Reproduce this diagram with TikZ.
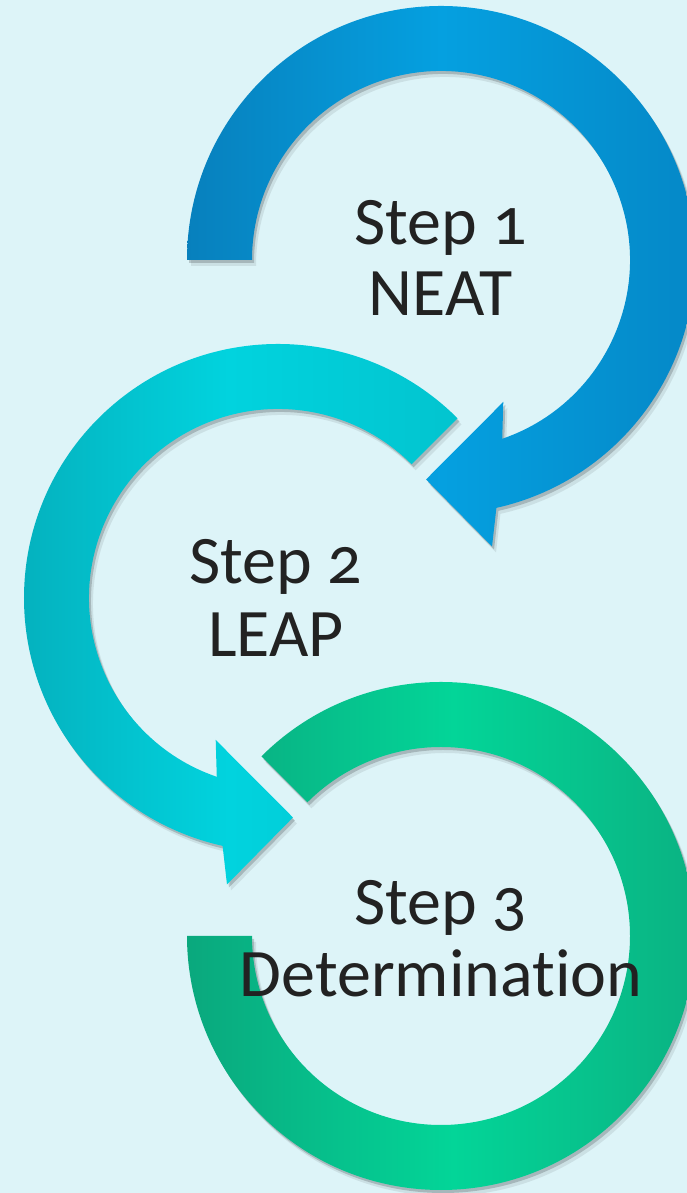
\documentclass[tikz,border=0pt]{standalone}
\usepackage{fontspec}
\setmainfont{Carlito}[Numbers=OldStyle,Ligatures={NoCommon,NoRare,NoDiscretionary,NoContextual}]
\usetikzlibrary{shadows}
\definecolor{bgc}{HTML}{DDF4F8}
\definecolor{txtc}{HTML}{222222}
\definecolor{bluel}{HTML}{0780BD}
\definecolor{bluem}{HTML}{05A0E0}
\definecolor{bluer}{HTML}{0588C7}
\definecolor{cyanl}{HTML}{05AEBB}
\definecolor{cyanm}{HTML}{01D3DE}
\definecolor{cyanr}{HTML}{02C4CF}
\definecolor{greenl}{HTML}{0AA87D}
\definecolor{greenm}{HTML}{03D598}
\definecolor{greenr}{HTML}{0BAF80}
\tikzset{
  ringshadow/.style={drop shadow={shadow xshift=2pt,shadow yshift=-3pt,opacity=.18,fill=black},
                     drop shadow={shadow xshift=4pt,shadow yshift=-6pt,opacity=.08,fill=black}},
  blueshape/.style={ringshadow,left color=bluel,right color=bluer,middle color=bluem,draw=none},
  cyanshape/.style={ringshadow,left color=cyanl,right color=cyanr,middle color=cyanm,draw=none},
  greenshape/.style={ringshadow,left color=greenl,right color=greenr,middle color=greenm,draw=none},
  steptext/.style={anchor=base,inner sep=0pt,text=txtc,font=\fontsize{68}{82}\selectfont}
}
\begin{document}
\begin{tikzpicture}[x=1pt,y=1pt]
\useasboundingbox (0,0) rectangle (687,1193);
\clip (0,0) rectangle (687,1193);
\fill[bgc] (0,0) rectangle (687,1193);
% green ring (step 3)
\begin{scope}[shift={(441,257)}]
\path[greenshape] (135:254pt) arc[start angle=135,end angle=-180,radius=254pt]
  -- (180:189pt) arc[start angle=-180,end angle=135,radius=189pt] -- cycle;
\end{scope}
% cyan arrow (step 2)
\begin{scope}[shift={(278,595)}]
\path[cyanshape] (45:254pt) arc[start angle=45,end angle=257.4,radius=254pt]
  -- (259.9:291pt) -- (273.9:220pt) -- (246.3:155pt) -- (251.1:189pt)
  arc[start angle=251.1,end angle=45,radius=189pt] -- cycle;
\end{scope}
% blue arrow (step 1)
\begin{scope}[shift={(441,933)}]
\path[blueshape] (180:254pt) arc[start angle=180,end angle=-77.4,radius=254pt]
  -- (-79.9:291pt) -- (-93.9:220pt) -- (-66.3:155pt) -- (-71.1:189pt)
  arc[start angle=-71.1,end angle=180,radius=189pt] -- cycle;
\end{scope}
% texts
\node[steptext] (t1a) at (440.5,948) {Step 1};
\node[steptext] (t1b) at (440.5,877) {NEAT};
\node[steptext] (t2a) at (276,609) {Step 2};
\node[steptext] (t2b) at (276,536) {LEAP};
\node[steptext] (t3a) at (440.5,268.5) {Step 3};
\node[steptext] (t3b) at (441,196) {Determination};
\end{tikzpicture}
\end{document}
